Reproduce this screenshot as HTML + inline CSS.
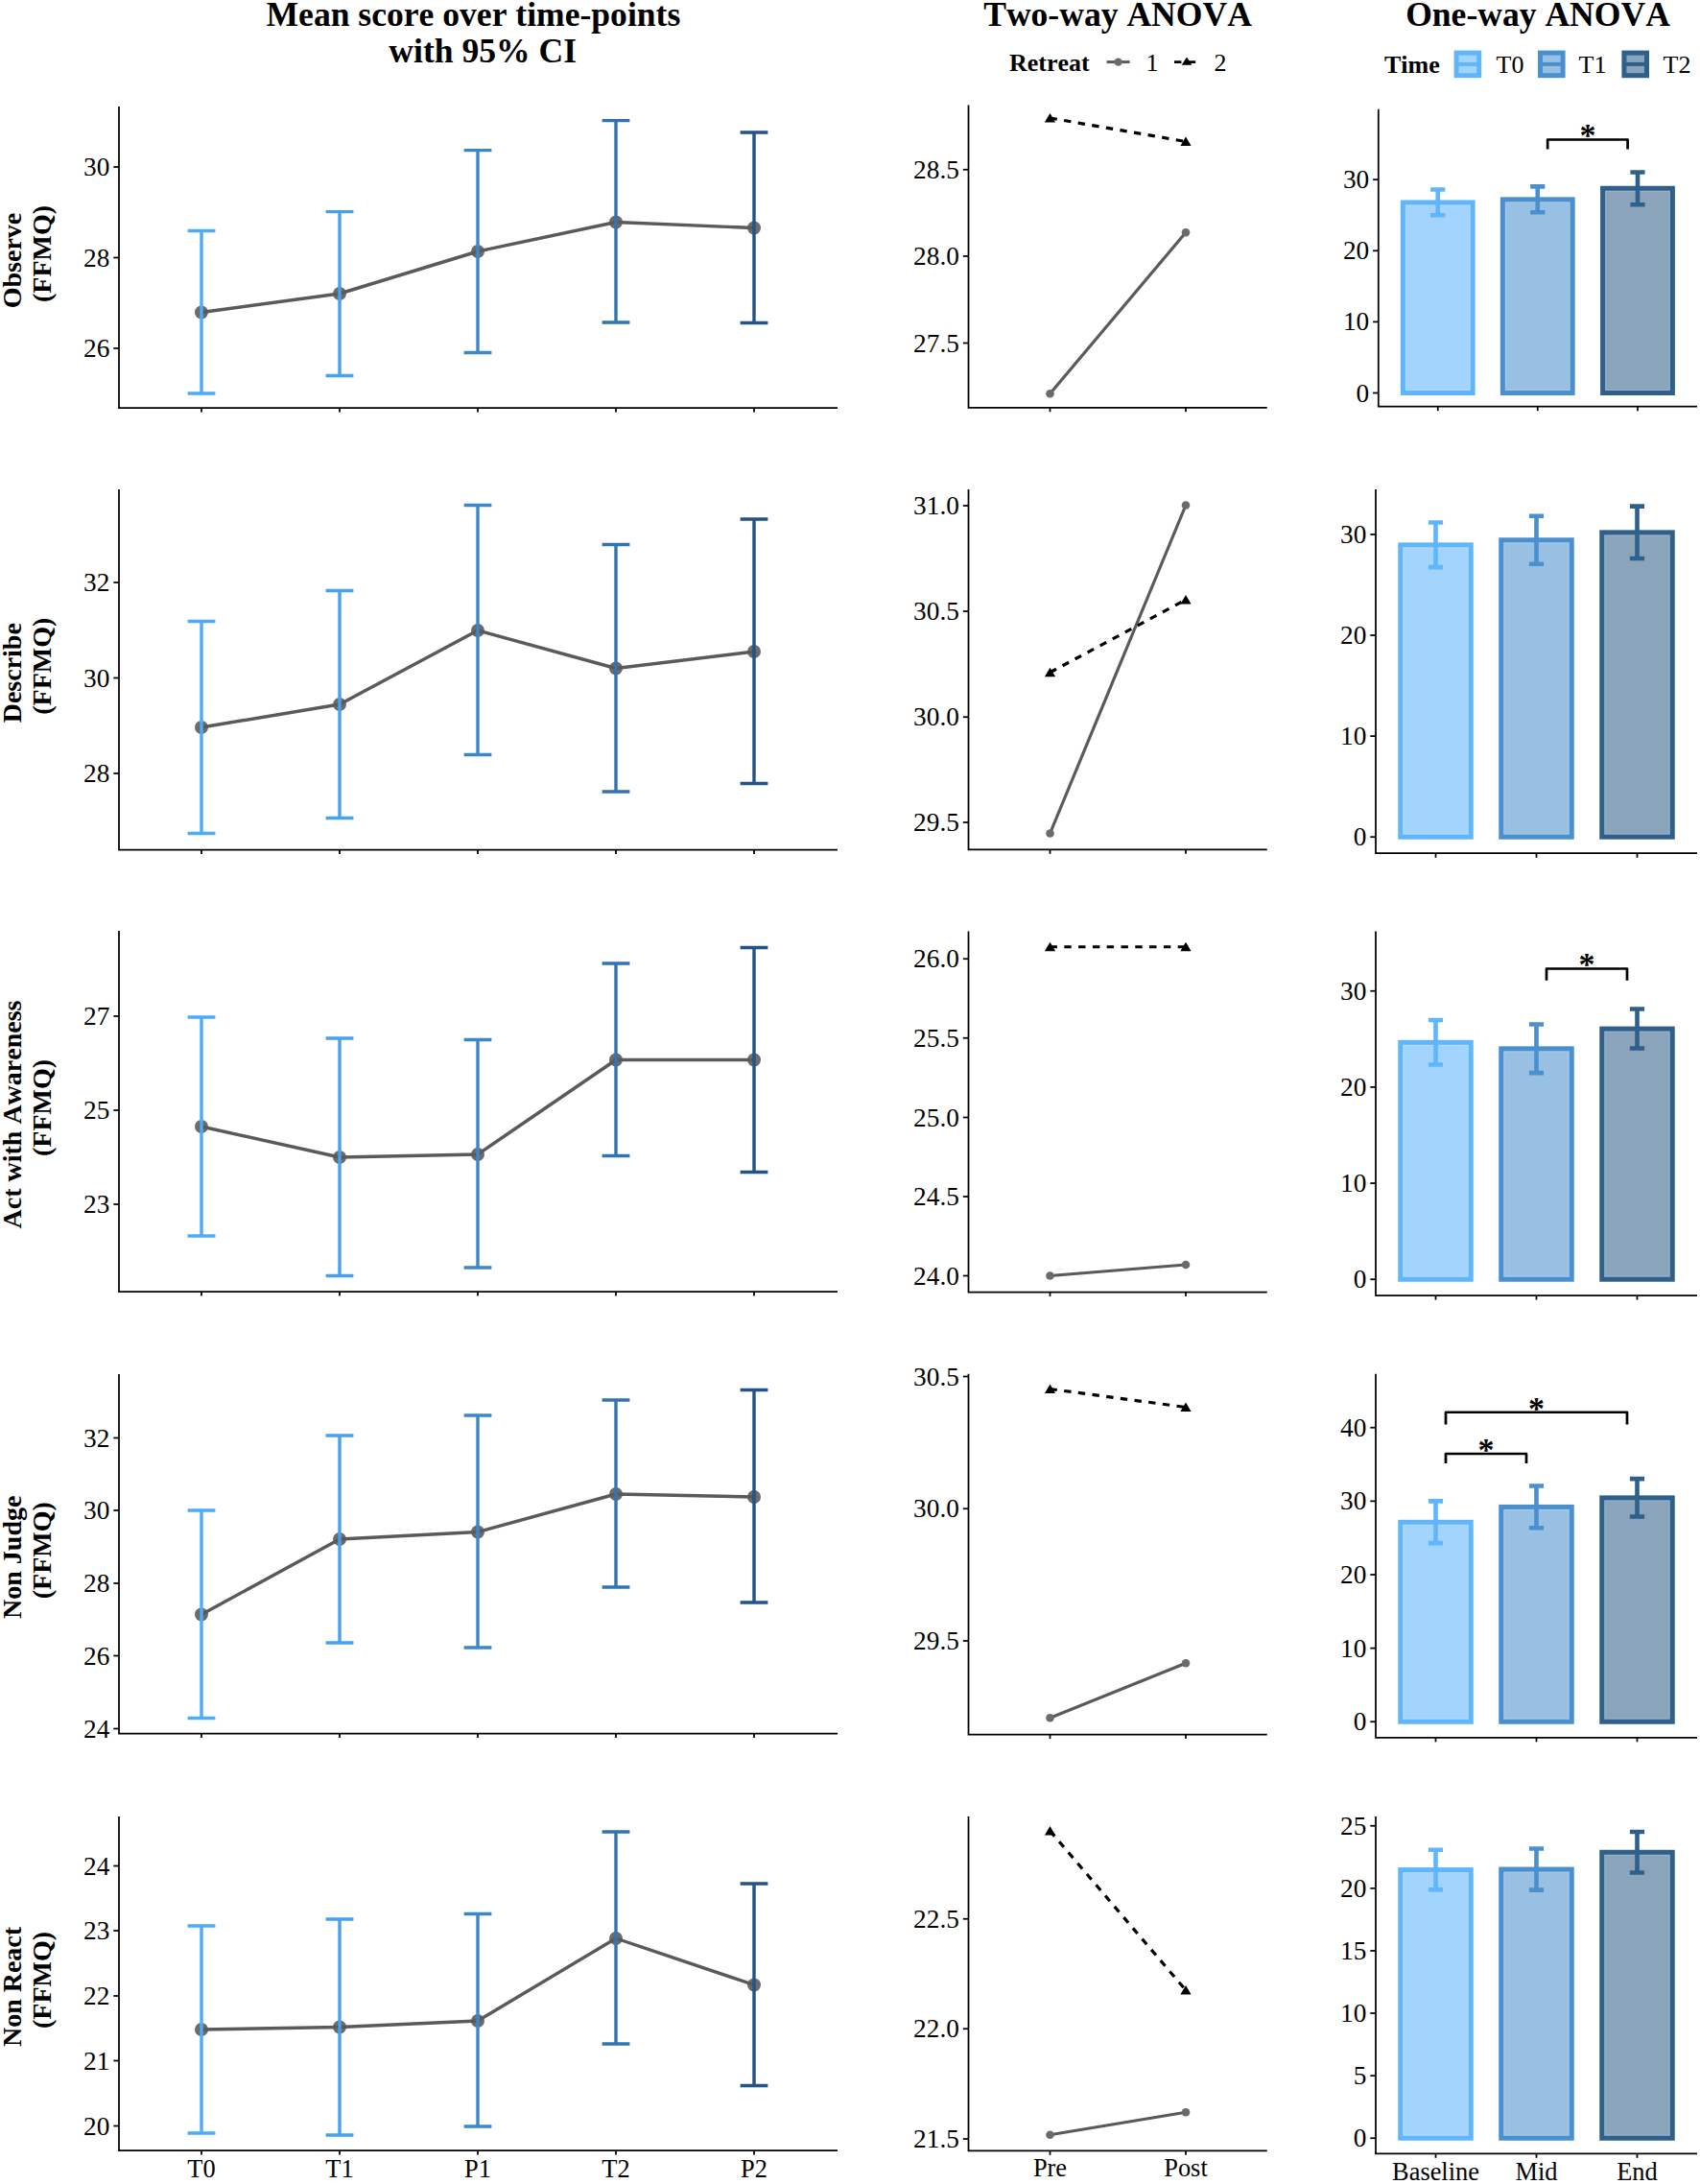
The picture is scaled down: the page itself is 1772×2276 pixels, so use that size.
<!DOCTYPE html>
<html lang="en">
<head>
<meta charset="utf-8">
<title>FFMQ scores: time-points, two-way and one-way ANOVA</title>
<style>
html,body{margin:0;padding:0;background:#fff;}
body{width:1772px;height:2276px;overflow:hidden;}
svg{display:block;font-family:"Liberation Serif", "Times New Roman", serif;}
svg text{fill:#000;font-kerning:none;}
</style>
</head>
<body>
<svg width="1772" height="2276" viewBox="0 0 1772 2276">
<rect x="0" y="0" width="1772" height="2276" fill="#fff"/>
<g font-weight="bold">
<text x="493.4" y="27" font-size="35.6" text-anchor="middle" font-weight="bold" >Mean score over time-points</text>
<text x="503.2" y="64.8" font-size="35.6" text-anchor="middle" font-weight="bold" >with 95% CI</text>
<text x="1165" y="27" font-size="35.6" text-anchor="middle" font-weight="bold" >Two-way ANOVA</text>
<text x="1603" y="27" font-size="35.6" text-anchor="middle" font-weight="bold" >One-way ANOVA</text>
</g>
<text x="1052" y="74" font-size="26" text-anchor="start" font-weight="bold" >Retreat</text>
<line x1="1153.6" y1="64.6" x2="1177.6" y2="64.6" stroke="#5a5a5a" stroke-width="3" />
<circle cx="1165.6" cy="64.6" r="4.2" fill="#6b6b6b"/>
<text x="1201" y="74" font-size="26" text-anchor="middle" font-weight="normal" >1</text>
<line x1="1224" y1="64.6" x2="1246.2" y2="64.6" stroke="#000" stroke-width="2.9" stroke-dasharray="7.4 7.4"/>
<path d="M1237 59.4 L1242.3 67.8 H1231.7 Z" fill="#000"/>
<text x="1272" y="74" font-size="26" text-anchor="middle" font-weight="normal" >2</text>
<text x="1443" y="76" font-size="26" text-anchor="start" font-weight="bold" >Time</text>
<rect x="1518.1" y="55.1" width="23.6" height="23.6" fill="#A3D4FD" stroke="#60B6FC" stroke-width="5"/>
<line x1="1518.1" y1="66.9" x2="1541.7" y2="66.9" stroke="#60B6FC" stroke-width="4" />
<text x="1574" y="76" font-size="26" text-anchor="middle" font-weight="normal" >T0</text>
<rect x="1605.5" y="55.1" width="23.6" height="23.6" fill="#98C0E3" stroke="#4A90CE" stroke-width="5"/>
<line x1="1605.5" y1="66.9" x2="1629.1" y2="66.9" stroke="#4A90CE" stroke-width="4" />
<text x="1660" y="76" font-size="26" text-anchor="middle" font-weight="normal" >T1</text>
<rect x="1692.9" y="55.1" width="23.6" height="23.6" fill="#89A4BB" stroke="#2F608C" stroke-width="5"/>
<line x1="1692.9" y1="66.9" x2="1716.5" y2="66.9" stroke="#2F608C" stroke-width="4" />
<text x="1748" y="76" font-size="26" text-anchor="middle" font-weight="normal" >T2</text>
<text transform="translate(22.2 271.5) rotate(-90)" font-size="28" font-weight="bold" text-anchor="middle">Observe</text>
<text transform="translate(52.6 264.5) rotate(-90)" font-size="28" font-weight="bold" text-anchor="middle">(FFMQ)</text>
<text transform="translate(22.2 701.25) rotate(-90)" font-size="28" font-weight="bold" text-anchor="middle">Describe</text>
<text transform="translate(52.6 694.25) rotate(-90)" font-size="28" font-weight="bold" text-anchor="middle">(FFMQ)</text>
<text transform="translate(22.2 1161.5) rotate(-90)" font-size="28" font-weight="bold" text-anchor="middle">Act with Awareness</text>
<text transform="translate(52.6 1154.5) rotate(-90)" font-size="28" font-weight="bold" text-anchor="middle">(FFMQ)</text>
<text transform="translate(22.2 1622.75) rotate(-90)" font-size="28" font-weight="bold" text-anchor="middle">Non Judge</text>
<text transform="translate(52.6 1615.75) rotate(-90)" font-size="28" font-weight="bold" text-anchor="middle">(FFMQ)</text>
<text transform="translate(22.2 2070.5) rotate(-90)" font-size="28" font-weight="bold" text-anchor="middle">Non React</text>
<text transform="translate(52.6 2063.5) rotate(-90)" font-size="28" font-weight="bold" text-anchor="middle">(FFMQ)</text>
<path d="M124 111 V425 H873" fill="none" stroke="#000" stroke-width="1.75" stroke-linejoin="miter"/>
<line x1="118.33" y1="174" x2="124" y2="174" stroke="#000" stroke-width="1.75" />
<text x="114.4" y="183.01" font-size="27.3" text-anchor="end" font-weight="normal" >30</text>
<line x1="118.33" y1="268.5" x2="124" y2="268.5" stroke="#000" stroke-width="1.75" />
<text x="114.4" y="277.51" font-size="27.3" text-anchor="end" font-weight="normal" >28</text>
<line x1="118.33" y1="363" x2="124" y2="363" stroke="#000" stroke-width="1.75" />
<text x="114.4" y="372.01" font-size="27.3" text-anchor="end" font-weight="normal" >26</text>
<line x1="210" y1="425" x2="210" y2="429.57" stroke="#000" stroke-width="1.75" />
<line x1="354" y1="425" x2="354" y2="429.57" stroke="#000" stroke-width="1.75" />
<line x1="498" y1="425" x2="498" y2="429.57" stroke="#000" stroke-width="1.75" />
<line x1="642" y1="425" x2="642" y2="429.57" stroke="#000" stroke-width="1.75" />
<line x1="786" y1="425" x2="786" y2="429.57" stroke="#000" stroke-width="1.75" />
<circle cx="210" cy="325.5" r="7" fill="#6b6b6b"/>
<circle cx="354" cy="306" r="7" fill="#6b6b6b"/>
<circle cx="498" cy="262" r="7" fill="#6b6b6b"/>
<circle cx="642" cy="231.5" r="7" fill="#6b6b6b"/>
<circle cx="786" cy="237.5" r="7" fill="#6b6b6b"/>
<path d="M210 325.5 L354 306 L498 262 L642 231.5 L786 237.5" fill="none" stroke="#5a5a5a" stroke-width="3.4" stroke-linejoin="round"/>
<path d="M195.6 240.5 H224.4 M210 240.5 V410 M195.6 410 H224.4" fill="none" stroke="#4EABFA" stroke-width="3.4"/>
<path d="M339.6 220.6 H368.4 M354 220.6 V391.5 M339.6 391.5 H368.4" fill="none" stroke="#47A1EE" stroke-width="3.4"/>
<path d="M483.6 156.6 H512.4 M498 156.6 V367.5 M483.6 367.5 H512.4" fill="none" stroke="#3B87CA" stroke-width="3.4"/>
<path d="M627.6 125.6 H656.4 M642 125.6 V336 M627.6 336 H656.4" fill="none" stroke="#3274B1" stroke-width="3.4"/>
<path d="M771.6 138 H800.4 M786 138 V336.5 M771.6 336.5 H800.4" fill="none" stroke="#235387" stroke-width="3.4"/>
<path d="M124 510 V885.5 H873" fill="none" stroke="#000" stroke-width="1.75" stroke-linejoin="miter"/>
<line x1="118.33" y1="607" x2="124" y2="607" stroke="#000" stroke-width="1.75" />
<text x="114.4" y="616.01" font-size="27.3" text-anchor="end" font-weight="normal" >32</text>
<line x1="118.33" y1="706.5" x2="124" y2="706.5" stroke="#000" stroke-width="1.75" />
<text x="114.4" y="715.51" font-size="27.3" text-anchor="end" font-weight="normal" >30</text>
<line x1="118.33" y1="806" x2="124" y2="806" stroke="#000" stroke-width="1.75" />
<text x="114.4" y="815.01" font-size="27.3" text-anchor="end" font-weight="normal" >28</text>
<line x1="210" y1="885.5" x2="210" y2="890.08" stroke="#000" stroke-width="1.75" />
<line x1="354" y1="885.5" x2="354" y2="890.08" stroke="#000" stroke-width="1.75" />
<line x1="498" y1="885.5" x2="498" y2="890.08" stroke="#000" stroke-width="1.75" />
<line x1="642" y1="885.5" x2="642" y2="890.08" stroke="#000" stroke-width="1.75" />
<line x1="786" y1="885.5" x2="786" y2="890.08" stroke="#000" stroke-width="1.75" />
<circle cx="210" cy="758" r="7" fill="#6b6b6b"/>
<circle cx="354" cy="734" r="7" fill="#6b6b6b"/>
<circle cx="498" cy="657" r="7" fill="#6b6b6b"/>
<circle cx="642" cy="696.5" r="7" fill="#6b6b6b"/>
<circle cx="786" cy="679" r="7" fill="#6b6b6b"/>
<path d="M210 758 L354 734 L498 657 L642 696.5 L786 679" fill="none" stroke="#5a5a5a" stroke-width="3.4" stroke-linejoin="round"/>
<path d="M195.6 647.5 H224.4 M210 647.5 V868.5 M195.6 868.5 H224.4" fill="none" stroke="#4EABFA" stroke-width="3.4"/>
<path d="M339.6 615.5 H368.4 M354 615.5 V852.5 M339.6 852.5 H368.4" fill="none" stroke="#47A1EE" stroke-width="3.4"/>
<path d="M483.6 526.5 H512.4 M498 526.5 V786.5 M483.6 786.5 H512.4" fill="none" stroke="#3B87CA" stroke-width="3.4"/>
<path d="M627.6 567.5 H656.4 M642 567.5 V825 M627.6 825 H656.4" fill="none" stroke="#3274B1" stroke-width="3.4"/>
<path d="M771.6 541 H800.4 M786 541 V816.5 M771.6 816.5 H800.4" fill="none" stroke="#235387" stroke-width="3.4"/>
<path d="M124 970 V1346 H873" fill="none" stroke="#000" stroke-width="1.75" stroke-linejoin="miter"/>
<line x1="118.33" y1="1059" x2="124" y2="1059" stroke="#000" stroke-width="1.75" />
<text x="114.4" y="1068.01" font-size="27.3" text-anchor="end" font-weight="normal" >27</text>
<line x1="118.33" y1="1157" x2="124" y2="1157" stroke="#000" stroke-width="1.75" />
<text x="114.4" y="1166.01" font-size="27.3" text-anchor="end" font-weight="normal" >25</text>
<line x1="118.33" y1="1255" x2="124" y2="1255" stroke="#000" stroke-width="1.75" />
<text x="114.4" y="1264.01" font-size="27.3" text-anchor="end" font-weight="normal" >23</text>
<line x1="210" y1="1346" x2="210" y2="1350.58" stroke="#000" stroke-width="1.75" />
<line x1="354" y1="1346" x2="354" y2="1350.58" stroke="#000" stroke-width="1.75" />
<line x1="498" y1="1346" x2="498" y2="1350.58" stroke="#000" stroke-width="1.75" />
<line x1="642" y1="1346" x2="642" y2="1350.58" stroke="#000" stroke-width="1.75" />
<line x1="786" y1="1346" x2="786" y2="1350.58" stroke="#000" stroke-width="1.75" />
<circle cx="210" cy="1174" r="7" fill="#6b6b6b"/>
<circle cx="354" cy="1206" r="7" fill="#6b6b6b"/>
<circle cx="498" cy="1203" r="7" fill="#6b6b6b"/>
<circle cx="642" cy="1104.5" r="7" fill="#6b6b6b"/>
<circle cx="786" cy="1104.5" r="7" fill="#6b6b6b"/>
<path d="M210 1174 L354 1206 L498 1203 L642 1104.5 L786 1104.5" fill="none" stroke="#5a5a5a" stroke-width="3.4" stroke-linejoin="round"/>
<path d="M195.6 1060 H224.4 M210 1060 V1288 M195.6 1288 H224.4" fill="none" stroke="#4EABFA" stroke-width="3.4"/>
<path d="M339.6 1082 H368.4 M354 1082 V1329.5 M339.6 1329.5 H368.4" fill="none" stroke="#47A1EE" stroke-width="3.4"/>
<path d="M483.6 1083.5 H512.4 M498 1083.5 V1321 M483.6 1321 H512.4" fill="none" stroke="#3B87CA" stroke-width="3.4"/>
<path d="M627.6 1004 H656.4 M642 1004 V1204.5 M627.6 1204.5 H656.4" fill="none" stroke="#3274B1" stroke-width="3.4"/>
<path d="M771.6 987.5 H800.4 M786 987.5 V1221.5 M771.6 1221.5 H800.4" fill="none" stroke="#235387" stroke-width="3.4"/>
<path d="M124 1432 V1806.5 H873" fill="none" stroke="#000" stroke-width="1.75" stroke-linejoin="miter"/>
<line x1="118.33" y1="1498.5" x2="124" y2="1498.5" stroke="#000" stroke-width="1.75" />
<text x="114.4" y="1507.51" font-size="27.3" text-anchor="end" font-weight="normal" >32</text>
<line x1="118.33" y1="1574" x2="124" y2="1574" stroke="#000" stroke-width="1.75" />
<text x="114.4" y="1583.01" font-size="27.3" text-anchor="end" font-weight="normal" >30</text>
<line x1="118.33" y1="1650" x2="124" y2="1650" stroke="#000" stroke-width="1.75" />
<text x="114.4" y="1659.01" font-size="27.3" text-anchor="end" font-weight="normal" >28</text>
<line x1="118.33" y1="1725.5" x2="124" y2="1725.5" stroke="#000" stroke-width="1.75" />
<text x="114.4" y="1734.51" font-size="27.3" text-anchor="end" font-weight="normal" >26</text>
<line x1="118.33" y1="1801.5" x2="124" y2="1801.5" stroke="#000" stroke-width="1.75" />
<text x="114.4" y="1810.51" font-size="27.3" text-anchor="end" font-weight="normal" >24</text>
<line x1="210" y1="1806.5" x2="210" y2="1811.08" stroke="#000" stroke-width="1.75" />
<line x1="354" y1="1806.5" x2="354" y2="1811.08" stroke="#000" stroke-width="1.75" />
<line x1="498" y1="1806.5" x2="498" y2="1811.08" stroke="#000" stroke-width="1.75" />
<line x1="642" y1="1806.5" x2="642" y2="1811.08" stroke="#000" stroke-width="1.75" />
<line x1="786" y1="1806.5" x2="786" y2="1811.08" stroke="#000" stroke-width="1.75" />
<circle cx="210" cy="1682.5" r="7" fill="#6b6b6b"/>
<circle cx="354" cy="1604" r="7" fill="#6b6b6b"/>
<circle cx="498" cy="1596.5" r="7" fill="#6b6b6b"/>
<circle cx="642" cy="1557" r="7" fill="#6b6b6b"/>
<circle cx="786" cy="1560" r="7" fill="#6b6b6b"/>
<path d="M210 1682.5 L354 1604 L498 1596.5 L642 1557 L786 1560" fill="none" stroke="#5a5a5a" stroke-width="3.4" stroke-linejoin="round"/>
<path d="M195.6 1574 H224.4 M210 1574 V1790.5 M195.6 1790.5 H224.4" fill="none" stroke="#4EABFA" stroke-width="3.4"/>
<path d="M339.6 1496 H368.4 M354 1496 V1712 M339.6 1712 H368.4" fill="none" stroke="#47A1EE" stroke-width="3.4"/>
<path d="M483.6 1475 H512.4 M498 1475 V1717 M483.6 1717 H512.4" fill="none" stroke="#3B87CA" stroke-width="3.4"/>
<path d="M627.6 1459 H656.4 M642 1459 V1654 M627.6 1654 H656.4" fill="none" stroke="#3274B1" stroke-width="3.4"/>
<path d="M771.6 1448.5 H800.4 M786 1448.5 V1670 M771.6 1670 H800.4" fill="none" stroke="#235387" stroke-width="3.4"/>
<path d="M124 1893 V2241 H873" fill="none" stroke="#000" stroke-width="1.75" stroke-linejoin="miter"/>
<line x1="118.33" y1="1944.5" x2="124" y2="1944.5" stroke="#000" stroke-width="1.75" />
<text x="114.4" y="1953.51" font-size="27.3" text-anchor="end" font-weight="normal" >24</text>
<line x1="118.33" y1="2012" x2="124" y2="2012" stroke="#000" stroke-width="1.75" />
<text x="114.4" y="2021.01" font-size="27.3" text-anchor="end" font-weight="normal" >23</text>
<line x1="118.33" y1="2080" x2="124" y2="2080" stroke="#000" stroke-width="1.75" />
<text x="114.4" y="2089.01" font-size="27.3" text-anchor="end" font-weight="normal" >22</text>
<line x1="118.33" y1="2147.5" x2="124" y2="2147.5" stroke="#000" stroke-width="1.75" />
<text x="114.4" y="2156.51" font-size="27.3" text-anchor="end" font-weight="normal" >21</text>
<line x1="118.33" y1="2215.5" x2="124" y2="2215.5" stroke="#000" stroke-width="1.75" />
<text x="114.4" y="2224.51" font-size="27.3" text-anchor="end" font-weight="normal" >20</text>
<line x1="210" y1="2241" x2="210" y2="2245.57" stroke="#000" stroke-width="1.75" />
<text x="210" y="2268.5" font-size="26.4" text-anchor="middle" font-weight="normal" >T0</text>
<line x1="354" y1="2241" x2="354" y2="2245.57" stroke="#000" stroke-width="1.75" />
<text x="354" y="2268.5" font-size="26.4" text-anchor="middle" font-weight="normal" >T1</text>
<line x1="498" y1="2241" x2="498" y2="2245.57" stroke="#000" stroke-width="1.75" />
<text x="498" y="2268.5" font-size="26.4" text-anchor="middle" font-weight="normal" >P1</text>
<line x1="642" y1="2241" x2="642" y2="2245.57" stroke="#000" stroke-width="1.75" />
<text x="642" y="2268.5" font-size="26.4" text-anchor="middle" font-weight="normal" >T2</text>
<line x1="786" y1="2241" x2="786" y2="2245.57" stroke="#000" stroke-width="1.75" />
<text x="786" y="2268.5" font-size="26.4" text-anchor="middle" font-weight="normal" >P2</text>
<circle cx="210" cy="2115" r="7" fill="#6b6b6b"/>
<circle cx="354" cy="2112.5" r="7" fill="#6b6b6b"/>
<circle cx="498" cy="2106" r="7" fill="#6b6b6b"/>
<circle cx="642" cy="2020" r="7" fill="#6b6b6b"/>
<circle cx="786" cy="2068.5" r="7" fill="#6b6b6b"/>
<path d="M210 2115 L354 2112.5 L498 2106 L642 2020 L786 2068.5" fill="none" stroke="#5a5a5a" stroke-width="3.4" stroke-linejoin="round"/>
<path d="M195.6 2007 H224.4 M210 2007 V2223 M195.6 2223 H224.4" fill="none" stroke="#4EABFA" stroke-width="3.4"/>
<path d="M339.6 2000 H368.4 M354 2000 V2225 M339.6 2225 H368.4" fill="none" stroke="#47A1EE" stroke-width="3.4"/>
<path d="M483.6 1994.5 H512.4 M498 1994.5 V2216 M483.6 2216 H512.4" fill="none" stroke="#3B87CA" stroke-width="3.4"/>
<path d="M627.6 1909 H656.4 M642 1909 V2130 M627.6 2130 H656.4" fill="none" stroke="#3274B1" stroke-width="3.4"/>
<path d="M771.6 1963 H800.4 M786 1963 V2173.5 M771.6 2173.5 H800.4" fill="none" stroke="#235387" stroke-width="3.4"/>
<path d="M1009.5 109.5 V424.75 H1320.75" fill="none" stroke="#000" stroke-width="1.75" stroke-linejoin="miter"/>
<line x1="1003.83" y1="176.75" x2="1009.5" y2="176.75" stroke="#000" stroke-width="1.75" />
<text x="999.9" y="185.76" font-size="27.3" text-anchor="end" font-weight="normal" >28.5</text>
<line x1="1003.83" y1="267" x2="1009.5" y2="267" stroke="#000" stroke-width="1.75" />
<text x="999.9" y="276.01" font-size="27.3" text-anchor="end" font-weight="normal" >28.0</text>
<line x1="1003.83" y1="357.5" x2="1009.5" y2="357.5" stroke="#000" stroke-width="1.75" />
<text x="999.9" y="366.51" font-size="27.3" text-anchor="end" font-weight="normal" >27.5</text>
<line x1="1094.5" y1="424.75" x2="1094.5" y2="429.32" stroke="#000" stroke-width="1.75" />
<line x1="1236" y1="424.75" x2="1236" y2="429.32" stroke="#000" stroke-width="1.75" />
<line x1="1094.5" y1="410.25" x2="1236" y2="242.25" stroke="#5a5a5a" stroke-width="3.2" />
<circle cx="1094.5" cy="410.25" r="4.3" fill="#6b6b6b"/>
<circle cx="1236" cy="242.25" r="4.3" fill="#6b6b6b"/>
<line x1="1094.5" y1="123" x2="1236" y2="147.5" stroke="#000" stroke-width="3.2" stroke-dasharray="7.4 7.4"/>
<path d="M1094.5 118 L1100.1 127.6 H1088.9 Z" fill="#000"/>
<path d="M1236 142.5 L1241.6 152.1 H1230.4 Z" fill="#000"/>
<path d="M1009.5 510 V885.25 H1320.75" fill="none" stroke="#000" stroke-width="1.75" stroke-linejoin="miter"/>
<line x1="1003.83" y1="527" x2="1009.5" y2="527" stroke="#000" stroke-width="1.75" />
<text x="999.9" y="536.01" font-size="27.3" text-anchor="end" font-weight="normal" >31.0</text>
<line x1="1003.83" y1="637" x2="1009.5" y2="637" stroke="#000" stroke-width="1.75" />
<text x="999.9" y="646.01" font-size="27.3" text-anchor="end" font-weight="normal" >30.5</text>
<line x1="1003.83" y1="747.25" x2="1009.5" y2="747.25" stroke="#000" stroke-width="1.75" />
<text x="999.9" y="756.26" font-size="27.3" text-anchor="end" font-weight="normal" >30.0</text>
<line x1="1003.83" y1="857" x2="1009.5" y2="857" stroke="#000" stroke-width="1.75" />
<text x="999.9" y="866.01" font-size="27.3" text-anchor="end" font-weight="normal" >29.5</text>
<line x1="1094.5" y1="885.25" x2="1094.5" y2="889.83" stroke="#000" stroke-width="1.75" />
<line x1="1236" y1="885.25" x2="1236" y2="889.83" stroke="#000" stroke-width="1.75" />
<line x1="1094.5" y1="868.5" x2="1236" y2="526.5" stroke="#5a5a5a" stroke-width="3.2" />
<circle cx="1094.5" cy="868.5" r="4.3" fill="#6b6b6b"/>
<circle cx="1236" cy="526.5" r="4.3" fill="#6b6b6b"/>
<line x1="1094.5" y1="700.75" x2="1236" y2="625" stroke="#000" stroke-width="3.2" stroke-dasharray="7.4 7.4"/>
<path d="M1094.5 695.75 L1100.1 705.35 H1088.9 Z" fill="#000"/>
<path d="M1236 620 L1241.6 629.6 H1230.4 Z" fill="#000"/>
<path d="M1009.5 970.5 V1346.5 H1320.75" fill="none" stroke="#000" stroke-width="1.75" stroke-linejoin="miter"/>
<line x1="1003.83" y1="999.25" x2="1009.5" y2="999.25" stroke="#000" stroke-width="1.75" />
<text x="999.9" y="1008.26" font-size="27.3" text-anchor="end" font-weight="normal" >26.0</text>
<line x1="1003.83" y1="1081.75" x2="1009.5" y2="1081.75" stroke="#000" stroke-width="1.75" />
<text x="999.9" y="1090.76" font-size="27.3" text-anchor="end" font-weight="normal" >25.5</text>
<line x1="1003.83" y1="1164.5" x2="1009.5" y2="1164.5" stroke="#000" stroke-width="1.75" />
<text x="999.9" y="1173.51" font-size="27.3" text-anchor="end" font-weight="normal" >25.0</text>
<line x1="1003.83" y1="1247" x2="1009.5" y2="1247" stroke="#000" stroke-width="1.75" />
<text x="999.9" y="1256.01" font-size="27.3" text-anchor="end" font-weight="normal" >24.5</text>
<line x1="1003.83" y1="1329.5" x2="1009.5" y2="1329.5" stroke="#000" stroke-width="1.75" />
<text x="999.9" y="1338.51" font-size="27.3" text-anchor="end" font-weight="normal" >24.0</text>
<line x1="1094.5" y1="1346.5" x2="1094.5" y2="1351.08" stroke="#000" stroke-width="1.75" />
<line x1="1236" y1="1346.5" x2="1236" y2="1351.08" stroke="#000" stroke-width="1.75" />
<line x1="1094.5" y1="1329.5" x2="1236" y2="1318" stroke="#5a5a5a" stroke-width="3.2" />
<circle cx="1094.5" cy="1329.5" r="4.3" fill="#6b6b6b"/>
<circle cx="1236" cy="1318" r="4.3" fill="#6b6b6b"/>
<line x1="1094.5" y1="986.75" x2="1236" y2="986.75" stroke="#000" stroke-width="3.2" stroke-dasharray="7.4 7.4"/>
<path d="M1094.5 981.75 L1100.1 991.35 H1088.9 Z" fill="#000"/>
<path d="M1236 981.75 L1241.6 991.35 H1230.4 Z" fill="#000"/>
<path d="M1009.5 1431.75 V1807.5 H1320.75" fill="none" stroke="#000" stroke-width="1.75" stroke-linejoin="miter"/>
<line x1="1003.83" y1="1434.5" x2="1009.5" y2="1434.5" stroke="#000" stroke-width="1.75" />
<text x="999.9" y="1443.51" font-size="27.3" text-anchor="end" font-weight="normal" >30.5</text>
<line x1="1003.83" y1="1572.25" x2="1009.5" y2="1572.25" stroke="#000" stroke-width="1.75" />
<text x="999.9" y="1581.26" font-size="27.3" text-anchor="end" font-weight="normal" >30.0</text>
<line x1="1003.83" y1="1710" x2="1009.5" y2="1710" stroke="#000" stroke-width="1.75" />
<text x="999.9" y="1719.01" font-size="27.3" text-anchor="end" font-weight="normal" >29.5</text>
<line x1="1094.5" y1="1807.5" x2="1094.5" y2="1812.08" stroke="#000" stroke-width="1.75" />
<line x1="1236" y1="1807.5" x2="1236" y2="1812.08" stroke="#000" stroke-width="1.75" />
<line x1="1094.5" y1="1790.25" x2="1236" y2="1733.25" stroke="#5a5a5a" stroke-width="3.2" />
<circle cx="1094.5" cy="1790.25" r="4.3" fill="#6b6b6b"/>
<circle cx="1236" cy="1733.25" r="4.3" fill="#6b6b6b"/>
<line x1="1094.5" y1="1447.5" x2="1236" y2="1466.5" stroke="#000" stroke-width="3.2" stroke-dasharray="7.4 7.4"/>
<path d="M1094.5 1442.5 L1100.1 1452.1 H1088.9 Z" fill="#000"/>
<path d="M1236 1461.5 L1241.6 1471.1 H1230.4 Z" fill="#000"/>
<path d="M1009.5 1893 V2241.25 H1320.75" fill="none" stroke="#000" stroke-width="1.75" stroke-linejoin="miter"/>
<line x1="1003.83" y1="1999.75" x2="1009.5" y2="1999.75" stroke="#000" stroke-width="1.75" />
<text x="999.9" y="2008.76" font-size="27.3" text-anchor="end" font-weight="normal" >22.5</text>
<line x1="1003.83" y1="2114.25" x2="1009.5" y2="2114.25" stroke="#000" stroke-width="1.75" />
<text x="999.9" y="2123.26" font-size="27.3" text-anchor="end" font-weight="normal" >22.0</text>
<line x1="1003.83" y1="2229" x2="1009.5" y2="2229" stroke="#000" stroke-width="1.75" />
<text x="999.9" y="2238.01" font-size="27.3" text-anchor="end" font-weight="normal" >21.5</text>
<line x1="1094.5" y1="2241.25" x2="1094.5" y2="2245.82" stroke="#000" stroke-width="1.75" />
<text x="1094.5" y="2267.5" font-size="26.4" text-anchor="middle" font-weight="normal" >Pre</text>
<line x1="1236" y1="2241.25" x2="1236" y2="2245.82" stroke="#000" stroke-width="1.75" />
<text x="1236" y="2267.5" font-size="26.4" text-anchor="middle" font-weight="normal" >Post</text>
<line x1="1094.5" y1="2224.75" x2="1236" y2="2201.25" stroke="#5a5a5a" stroke-width="3.2" />
<circle cx="1094.5" cy="2224.75" r="4.3" fill="#6b6b6b"/>
<circle cx="1236" cy="2201.25" r="4.3" fill="#6b6b6b"/>
<line x1="1094.5" y1="1908" x2="1236" y2="2074" stroke="#000" stroke-width="3.2" stroke-dasharray="7.4 7.4"/>
<path d="M1094.5 1903 L1100.1 1912.6 H1088.9 Z" fill="#000"/>
<path d="M1236 2069 L1241.6 2078.6 H1230.4 Z" fill="#000"/>
<path d="M1436.8 113.8 V423.6 H1769" fill="none" stroke="#000" stroke-width="1.75" stroke-linejoin="miter"/>
<line x1="1431.12" y1="409.5" x2="1436.8" y2="409.5" stroke="#000" stroke-width="1.75" />
<text x="1427.2" y="418.51" font-size="27.3" text-anchor="end" font-weight="normal" >0</text>
<line x1="1431.12" y1="335.4" x2="1436.8" y2="335.4" stroke="#000" stroke-width="1.75" />
<text x="1427.2" y="344.41" font-size="27.3" text-anchor="end" font-weight="normal" >10</text>
<line x1="1431.12" y1="261.3" x2="1436.8" y2="261.3" stroke="#000" stroke-width="1.75" />
<text x="1427.2" y="270.31" font-size="27.3" text-anchor="end" font-weight="normal" >20</text>
<line x1="1431.12" y1="187.2" x2="1436.8" y2="187.2" stroke="#000" stroke-width="1.75" />
<text x="1427.2" y="196.21" font-size="27.3" text-anchor="end" font-weight="normal" >30</text>
<line x1="1498.75" y1="423.6" x2="1498.75" y2="428.18" stroke="#000" stroke-width="1.75" />
<line x1="1602.75" y1="423.6" x2="1602.75" y2="428.18" stroke="#000" stroke-width="1.75" />
<line x1="1707" y1="423.6" x2="1707" y2="428.18" stroke="#000" stroke-width="1.75" />
<rect x="1462.35" y="210.99" width="72.8" height="198.51" fill="#A3D4FD" stroke="#60B6FC" stroke-width="5"/>
<rect x="1465.45" y="214.09" width="66.6" height="192.31" fill="none" stroke="#fff" stroke-opacity="0.16" stroke-width="1.2"/>
<rect x="1566.35" y="207.87" width="72.8" height="201.63" fill="#98C0E3" stroke="#4A90CE" stroke-width="5"/>
<rect x="1569.45" y="210.97" width="66.6" height="195.43" fill="none" stroke="#fff" stroke-opacity="0.16" stroke-width="1.2"/>
<rect x="1670.6" y="196.24" width="72.8" height="213.26" fill="#89A4BB" stroke="#2F608C" stroke-width="5"/>
<rect x="1673.7" y="199.34" width="66.6" height="207.06" fill="none" stroke="#fff" stroke-opacity="0.16" stroke-width="1.2"/>
<path d="M1491.15 197.57 H1506.35 M1498.75 197.57 V224.25 M1491.15 224.25 H1506.35" fill="none" stroke="#60B6FC" stroke-width="4.6"/>
<path d="M1595.15 194.39 H1610.35 M1602.75 194.39 V221.29 M1595.15 221.29 H1610.35" fill="none" stroke="#4A90CE" stroke-width="4.6"/>
<path d="M1699.4 179.49 H1714.6 M1707 179.49 V213.28 M1699.4 213.28 H1714.6" fill="none" stroke="#2F608C" stroke-width="4.6"/>
<path d="M1613.15 155.5 V145.5 H1696.6 V155.5" fill="none" stroke="#000" stroke-width="2.7" stroke-linejoin="round"/>
<text x="1654.88" y="152.3" font-size="34" text-anchor="middle" font-weight="bold" >*</text>
<path d="M1434 510 V889.2 H1769" fill="none" stroke="#000" stroke-width="1.75" stroke-linejoin="miter"/>
<line x1="1428.33" y1="872.2" x2="1434" y2="872.2" stroke="#000" stroke-width="1.75" />
<text x="1424.4" y="881.21" font-size="27.3" text-anchor="end" font-weight="normal" >0</text>
<line x1="1428.33" y1="767.12" x2="1434" y2="767.12" stroke="#000" stroke-width="1.75" />
<text x="1424.4" y="776.13" font-size="27.3" text-anchor="end" font-weight="normal" >10</text>
<line x1="1428.33" y1="662.04" x2="1434" y2="662.04" stroke="#000" stroke-width="1.75" />
<text x="1424.4" y="671.05" font-size="27.3" text-anchor="end" font-weight="normal" >20</text>
<line x1="1428.33" y1="556.96" x2="1434" y2="556.96" stroke="#000" stroke-width="1.75" />
<text x="1424.4" y="565.97" font-size="27.3" text-anchor="end" font-weight="normal" >30</text>
<line x1="1496.5" y1="889.2" x2="1496.5" y2="893.78" stroke="#000" stroke-width="1.75" />
<line x1="1601.5" y1="889.2" x2="1601.5" y2="893.78" stroke="#000" stroke-width="1.75" />
<line x1="1706.5" y1="889.2" x2="1706.5" y2="893.78" stroke="#000" stroke-width="1.75" />
<rect x="1459.75" y="567.84" width="73.5" height="304.36" fill="#A3D4FD" stroke="#60B6FC" stroke-width="5"/>
<rect x="1462.85" y="570.94" width="67.3" height="298.16" fill="none" stroke="#fff" stroke-opacity="0.16" stroke-width="1.2"/>
<rect x="1564.75" y="562.77" width="73.5" height="309.43" fill="#98C0E3" stroke="#4A90CE" stroke-width="5"/>
<rect x="1567.85" y="565.87" width="67.3" height="303.23" fill="none" stroke="#fff" stroke-opacity="0.16" stroke-width="1.2"/>
<rect x="1669.75" y="554.86" width="73.5" height="317.34" fill="#89A4BB" stroke="#2F608C" stroke-width="5"/>
<rect x="1672.85" y="557.96" width="67.3" height="311.14" fill="none" stroke="#fff" stroke-opacity="0.16" stroke-width="1.2"/>
<path d="M1488.9 544.5 H1504.1 M1496.5 544.5 V591.17 M1488.9 591.17 H1504.1" fill="none" stroke="#60B6FC" stroke-width="4.6"/>
<path d="M1593.9 537.73 H1609.1 M1601.5 537.73 V587.8 M1593.9 587.8 H1609.1" fill="none" stroke="#4A90CE" stroke-width="4.6"/>
<path d="M1698.9 527.64 H1714.1 M1706.5 527.64 V581.97 M1698.9 581.97 H1714.1" fill="none" stroke="#2F608C" stroke-width="4.6"/>
<path d="M1434 970.5 V1350 H1769" fill="none" stroke="#000" stroke-width="1.75" stroke-linejoin="miter"/>
<line x1="1428.33" y1="1333.25" x2="1434" y2="1333.25" stroke="#000" stroke-width="1.75" />
<text x="1424.4" y="1342.26" font-size="27.3" text-anchor="end" font-weight="normal" >0</text>
<line x1="1428.33" y1="1233.08" x2="1434" y2="1233.08" stroke="#000" stroke-width="1.75" />
<text x="1424.4" y="1242.09" font-size="27.3" text-anchor="end" font-weight="normal" >10</text>
<line x1="1428.33" y1="1132.91" x2="1434" y2="1132.91" stroke="#000" stroke-width="1.75" />
<text x="1424.4" y="1141.92" font-size="27.3" text-anchor="end" font-weight="normal" >20</text>
<line x1="1428.33" y1="1032.74" x2="1434" y2="1032.74" stroke="#000" stroke-width="1.75" />
<text x="1424.4" y="1041.75" font-size="27.3" text-anchor="end" font-weight="normal" >30</text>
<line x1="1496.5" y1="1350" x2="1496.5" y2="1354.58" stroke="#000" stroke-width="1.75" />
<line x1="1601.5" y1="1350" x2="1601.5" y2="1354.58" stroke="#000" stroke-width="1.75" />
<line x1="1706.5" y1="1350" x2="1706.5" y2="1354.58" stroke="#000" stroke-width="1.75" />
<rect x="1459.75" y="1086.3" width="73.5" height="246.95" fill="#A3D4FD" stroke="#60B6FC" stroke-width="5"/>
<rect x="1462.85" y="1089.4" width="67.3" height="240.75" fill="none" stroke="#fff" stroke-opacity="0.16" stroke-width="1.2"/>
<rect x="1564.75" y="1092.84" width="73.5" height="240.41" fill="#98C0E3" stroke="#4A90CE" stroke-width="5"/>
<rect x="1567.85" y="1095.94" width="67.3" height="234.21" fill="none" stroke="#fff" stroke-opacity="0.16" stroke-width="1.2"/>
<rect x="1669.75" y="1072.11" width="73.5" height="261.14" fill="#89A4BB" stroke="#2F608C" stroke-width="5"/>
<rect x="1672.85" y="1075.21" width="67.3" height="254.94" fill="none" stroke="#fff" stroke-opacity="0.16" stroke-width="1.2"/>
<path d="M1488.9 1062.99 H1504.1 M1496.5 1062.99 V1109.57 M1488.9 1109.57 H1504.1" fill="none" stroke="#60B6FC" stroke-width="4.6"/>
<path d="M1593.9 1067.5 H1609.1 M1601.5 1067.5 V1118.08 M1593.9 1118.08 H1609.1" fill="none" stroke="#4A90CE" stroke-width="4.6"/>
<path d="M1698.9 1051.57 H1714.1 M1706.5 1051.57 V1092.54 M1698.9 1092.54 H1714.1" fill="none" stroke="#2F608C" stroke-width="4.6"/>
<path d="M1612 1021.75 V1009.5 H1696 V1021.75" fill="none" stroke="#000" stroke-width="2.7" stroke-linejoin="round"/>
<text x="1654" y="1016.3" font-size="34" text-anchor="middle" font-weight="bold" >*</text>
<path d="M1434 1431.75 V1810.75 H1769" fill="none" stroke="#000" stroke-width="1.75" stroke-linejoin="miter"/>
<line x1="1428.33" y1="1794.25" x2="1434" y2="1794.25" stroke="#000" stroke-width="1.75" />
<text x="1424.4" y="1803.26" font-size="27.3" text-anchor="end" font-weight="normal" >0</text>
<line x1="1428.33" y1="1717.62" x2="1434" y2="1717.62" stroke="#000" stroke-width="1.75" />
<text x="1424.4" y="1726.63" font-size="27.3" text-anchor="end" font-weight="normal" >10</text>
<line x1="1428.33" y1="1641" x2="1434" y2="1641" stroke="#000" stroke-width="1.75" />
<text x="1424.4" y="1650.01" font-size="27.3" text-anchor="end" font-weight="normal" >20</text>
<line x1="1428.33" y1="1564.38" x2="1434" y2="1564.38" stroke="#000" stroke-width="1.75" />
<text x="1424.4" y="1573.38" font-size="27.3" text-anchor="end" font-weight="normal" >30</text>
<line x1="1428.33" y1="1487.75" x2="1434" y2="1487.75" stroke="#000" stroke-width="1.75" />
<text x="1424.4" y="1496.76" font-size="27.3" text-anchor="end" font-weight="normal" >40</text>
<line x1="1496.5" y1="1810.75" x2="1496.5" y2="1815.33" stroke="#000" stroke-width="1.75" />
<line x1="1601.5" y1="1810.75" x2="1601.5" y2="1815.33" stroke="#000" stroke-width="1.75" />
<line x1="1706.5" y1="1810.75" x2="1706.5" y2="1815.33" stroke="#000" stroke-width="1.75" />
<rect x="1459.75" y="1586.29" width="73.5" height="207.96" fill="#A3D4FD" stroke="#60B6FC" stroke-width="5"/>
<rect x="1462.85" y="1589.39" width="67.3" height="201.76" fill="none" stroke="#fff" stroke-opacity="0.16" stroke-width="1.2"/>
<rect x="1564.75" y="1570.43" width="73.5" height="223.82" fill="#98C0E3" stroke="#4A90CE" stroke-width="5"/>
<rect x="1567.85" y="1573.53" width="67.3" height="217.62" fill="none" stroke="#fff" stroke-opacity="0.16" stroke-width="1.2"/>
<rect x="1669.75" y="1560.89" width="73.5" height="233.36" fill="#89A4BB" stroke="#2F608C" stroke-width="5"/>
<rect x="1672.85" y="1563.99" width="67.3" height="227.16" fill="none" stroke="#fff" stroke-opacity="0.16" stroke-width="1.2"/>
<path d="M1488.9 1564.38 H1504.1 M1496.5 1564.38 V1608.13 M1488.9 1608.13 H1504.1" fill="none" stroke="#60B6FC" stroke-width="4.6"/>
<path d="M1593.9 1548.51 H1609.1 M1601.5 1548.51 V1592.27 M1593.9 1592.27 H1609.1" fill="none" stroke="#4A90CE" stroke-width="4.6"/>
<path d="M1698.9 1541.08 H1714.1 M1706.5 1541.08 V1580.54 M1698.9 1580.54 H1714.1" fill="none" stroke="#2F608C" stroke-width="4.6"/>
<path d="M1507 1484.5 V1471.75 H1696 V1484.5" fill="none" stroke="#000" stroke-width="2.7" stroke-linejoin="round"/>
<text x="1601.5" y="1478.55" font-size="34" text-anchor="middle" font-weight="bold" >*</text>
<path d="M1507 1525 V1515 H1591 V1525" fill="none" stroke="#000" stroke-width="2.7" stroke-linejoin="round"/>
<text x="1549" y="1521.8" font-size="34" text-anchor="middle" font-weight="bold" >*</text>
<path d="M1434 1893 V2244.25 H1769" fill="none" stroke="#000" stroke-width="1.75" stroke-linejoin="miter"/>
<line x1="1428.33" y1="2228.25" x2="1434" y2="2228.25" stroke="#000" stroke-width="1.75" />
<text x="1424.4" y="2237.26" font-size="27.3" text-anchor="end" font-weight="normal" >0</text>
<line x1="1428.33" y1="2163.15" x2="1434" y2="2163.15" stroke="#000" stroke-width="1.75" />
<text x="1424.4" y="2172.16" font-size="27.3" text-anchor="end" font-weight="normal" >5</text>
<line x1="1428.33" y1="2098.05" x2="1434" y2="2098.05" stroke="#000" stroke-width="1.75" />
<text x="1424.4" y="2107.06" font-size="27.3" text-anchor="end" font-weight="normal" >10</text>
<line x1="1428.33" y1="2032.95" x2="1434" y2="2032.95" stroke="#000" stroke-width="1.75" />
<text x="1424.4" y="2041.96" font-size="27.3" text-anchor="end" font-weight="normal" >15</text>
<line x1="1428.33" y1="1967.85" x2="1434" y2="1967.85" stroke="#000" stroke-width="1.75" />
<text x="1424.4" y="1976.86" font-size="27.3" text-anchor="end" font-weight="normal" >20</text>
<line x1="1428.33" y1="1902.75" x2="1434" y2="1902.75" stroke="#000" stroke-width="1.75" />
<text x="1424.4" y="1911.76" font-size="27.3" text-anchor="end" font-weight="normal" >25</text>
<line x1="1496.5" y1="2244.25" x2="1496.5" y2="2248.82" stroke="#000" stroke-width="1.75" />
<text x="1496.5" y="2272" font-size="26.4" text-anchor="middle" font-weight="normal" >Baseline</text>
<line x1="1601.5" y1="2244.25" x2="1601.5" y2="2248.82" stroke="#000" stroke-width="1.75" />
<text x="1601.5" y="2272" font-size="26.4" text-anchor="middle" font-weight="normal" >Mid</text>
<line x1="1706.5" y1="2244.25" x2="1706.5" y2="2248.82" stroke="#000" stroke-width="1.75" />
<text x="1706.5" y="2272" font-size="26.4" text-anchor="middle" font-weight="normal" >End</text>
<rect x="1459.75" y="1948.58" width="73.5" height="279.67" fill="#A3D4FD" stroke="#60B6FC" stroke-width="5"/>
<rect x="1462.85" y="1951.68" width="67.3" height="273.47" fill="none" stroke="#fff" stroke-opacity="0.16" stroke-width="1.2"/>
<rect x="1564.75" y="1948.06" width="73.5" height="280.19" fill="#98C0E3" stroke="#4A90CE" stroke-width="5"/>
<rect x="1567.85" y="1951.16" width="67.3" height="273.99" fill="none" stroke="#fff" stroke-opacity="0.16" stroke-width="1.2"/>
<rect x="1669.75" y="1930.27" width="73.5" height="297.98" fill="#89A4BB" stroke="#2F608C" stroke-width="5"/>
<rect x="1672.85" y="1933.37" width="67.3" height="291.78" fill="none" stroke="#fff" stroke-opacity="0.16" stroke-width="1.2"/>
<path d="M1488.9 1927.75 H1504.1 M1496.5 1927.75 V1969.28 M1488.9 1969.28 H1504.1" fill="none" stroke="#60B6FC" stroke-width="4.6"/>
<path d="M1593.9 1926.45 H1609.1 M1601.5 1926.45 V1969.67 M1593.9 1969.67 H1609.1" fill="none" stroke="#4A90CE" stroke-width="4.6"/>
<path d="M1698.9 1909 H1714.1 M1706.5 1909 V1951.44 M1698.9 1951.44 H1714.1" fill="none" stroke="#2F608C" stroke-width="4.6"/>
</svg>
</body>
</html>
